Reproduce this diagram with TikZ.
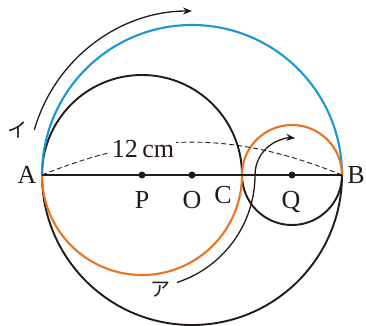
\documentclass[tikz,border=0pt]{standalone}
\usepackage{fontspec}
\setmainfont{Liberation Serif}
\newfontfamily\jpfont{Noto Sans CJK JP}
\usetikzlibrary{arrows.meta}
\definecolor{blueC}{RGB}{25,150,215}
\definecolor{orangeC}{RGB}{235,115,35}
\definecolor{inkC}{RGB}{35,25,25}
\begin{document}
\begin{tikzpicture}[x=1pt,y=1pt,
  circ/.style={line width=1.9pt,inkC},
  bluearc/.style={line width=2.1pt,blueC},
  orangearc/.style={line width=2.1pt,orangeC},
  motion/.style={line width=1.3pt,inkC,-{Stealth[length=9pt,width=7pt]}},
  dot/.style={circle,fill=inkC,inner sep=0pt,minimum size=7pt},
  lab/.style={font=\fontsize{26}{30}\selectfont,text=inkC,inner sep=1pt},
  kana/.style={font=\jpfont\fontsize{20}{24}\selectfont,text=inkC,inner sep=1pt}]
\useasboundingbox (0,0) rectangle (366,325);
\coordinate (A) at (42,150);
\coordinate (B) at (342,150);
\coordinate (O) at (192,150);
\coordinate (P) at (142,150);
\coordinate (C) at (242,150);
\coordinate (Q) at (292,150);
% black halves
\draw[circ] (A) arc[start angle=180,end angle=360,radius=150];
\draw[circ] (A) arc[start angle=180,end angle=0,radius=100];
\draw[circ] (C) arc[start angle=180,end angle=360,radius=50];
% coloured halves
\draw[bluearc] (A) arc[start angle=180,end angle=0,radius=150];
\draw[orangearc] (A) arc[start angle=180,end angle=360,radius=100];
\draw[orangearc] (C) arc[start angle=180,end angle=0,radius=50];
% diameter
\draw[line width=1.1pt,inkC] (A) -- (B);
% dashed length arc
\draw[line width=0.9pt,inkC,dash pattern=on 5pt off 3pt] (A) to[bend left=22] (B);
\node[lab,fill=white,inner sep=2pt] (len) at (143,176) {12\,cm};
% dots
\node[dot] (dP) at (P) {};
\node[dot] (dO) at (O) {};
\node[dot] (dQ) at (Q) {};
% labels
\node[lab] (lA) at (27,150) {A};
\node[lab] (lB) at (356,150) {B};
\node[lab] (lP) at (142,125) {P};
\node[lab] (lO) at (192,125) {O};
\node[lab] (lC) at (223,130) {C};
\node[lab] (lQ) at (291,123) {Q};
% motion arrows
\coordinate (i0) at ([shift={(164:164)}]O);
\draw[motion] (i0) arc[start angle=164,end angle=90,radius=164];
\coordinate (a0) at ([shift={(-72:113)}]P);
\draw[motion] (a0) arc[start angle=-72,end angle=0,radius=113] arc[start angle=180,end angle=85,radius=37];
\node[kana] (ki) at (18,195) {イ};
\node[kana] (ka) at (160,35) {ア};
\end{tikzpicture}
\end{document}
